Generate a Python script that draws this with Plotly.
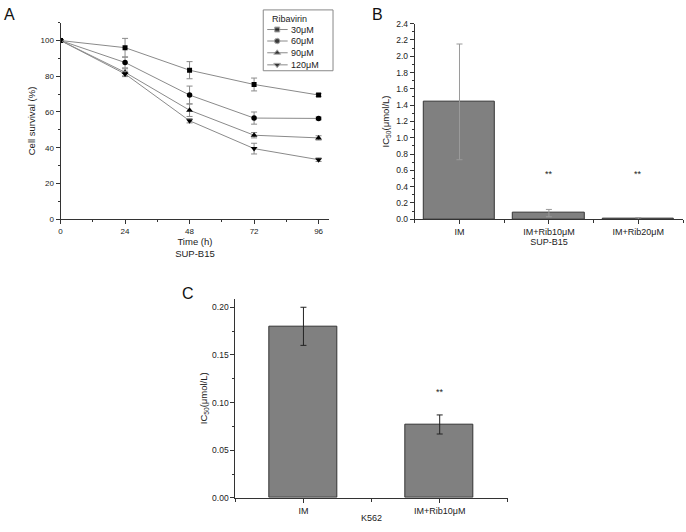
import plotly.graph_objects as go

# ---------------- data ----------------
times = [0, 24, 48, 72, 96]
s30 = [100, 96.0, 83.4, 75.4, 69.5]
e30 = [0, 5.2, 4.8, 3.6, 0.8]
s60 = [100, 87.7, 69.5, 56.6, 56.4]
e60 = [0, 3.0, 5.0, 3.4, 0.8]
s90 = [100, 82.2, 61.0, 47.0, 45.5]
e90 = [0, 2.0, 3.5, 1.5, 1.2]
s120 = [100, 81.3, 55.1, 39.5, 33.3]
e120 = [0, 1.5, 1.2, 3.0, 1.0]
series_names = ["30μM", "60μM", "90μM", "120μM"]

b_cats = ["IM", "IM+Rib10μM", "IM+Rib20μM"]
b_vals = [1.44, 0.075, 0.01]
b_errs = [0.71, 0.045, 0.01]
b_sig = ["", "**", "**"]
b_sig_y = [0, 0.56, 0.55]

c_cats = ["IM", "IM+Rib10μM"]
c_vals = [0.18, 0.077]
c_errs = [0.02, 0.010]
c_sig = ["", "**"]
c_sig_y = [0, 0.111]

W, H = 686, 532
FONT = "Liberation Sans, Arial, sans-serif"
AX = "#333333"
LINE_GRAY = "#8a8a8a"


def dom_x(a, b):
    return [a / W, b / W]


def dom_y(top, bottom):
    return [1 - bottom / H, 1 - top / H]


fig = go.Figure()

# ---------------- panel A ----------------
symbols = ["square", "circle", "triangle-up", "triangle-down"]
msizes = [5, 5.5, 6, 6]
for name, ys, es, sym, ms in zip(series_names, [s30, s60, s90, s120],
                                 [e30, e60, e90, e120], symbols, msizes):
    fig.add_trace(go.Scatter(
        x=times, y=ys, name=name, mode="lines+markers",
        line=dict(color=LINE_GRAY, width=1),
        marker=dict(symbol=sym, size=ms, color="black"),
        error_y=dict(type="data", array=es, visible=True,
                     color=LINE_GRAY, thickness=1, width=3),
        xaxis="x", yaxis="y", showlegend=False,
    ))

# ---------------- custom compact legend (panel A) ----------------
# helper axis spanning the whole page in pixel units
LEG_L, LEG_R, LEG_T, LEG_B = 262, 332, 5, 67
row_y = [25, 36.7, 48.7, 61.0]
for name, sym, ms, ry in zip(series_names, symbols, msizes, row_y):
    fig.add_trace(go.Scatter(
        x=[266, 276, 286.5], y=[ry, ry, ry], mode="lines+markers",
        line=dict(color=LINE_GRAY, width=1),
        marker=dict(symbol=sym, size=[0, ms, 0], color="black"),
        xaxis="x4", yaxis="y4", showlegend=False, hoverinfo="skip",
    ))

# ---------------- panel B ----------------
fig.add_trace(go.Bar(
    x=list(range(len(b_cats))), y=b_vals, width=0.8,
    marker=dict(color="#808080", line=dict(color="#333333", width=1)),
    error_y=dict(type="data", array=b_errs, visible=True,
                 color="#9a9a9a", thickness=1, width=3),
    xaxis="x2", yaxis="y2", showlegend=False,
))

# ---------------- panel C ----------------
fig.add_trace(go.Bar(
    x=list(range(len(c_cats))), y=c_vals, width=0.5,
    marker=dict(color="#808080", line=dict(color="#333333", width=1)),
    error_y=dict(type="data", array=c_errs, visible=True,
                 color="#222222", thickness=1, width=3),
    xaxis="x3", yaxis="y3", showlegend=False,
))

annotations = []
for i, s in enumerate(b_sig):
    if s:
        annotations.append(dict(x=i, y=b_sig_y[i], xref="x2", yref="y2", text=s,
                                showarrow=False, font=dict(size=9, color="#222")))
for i, s in enumerate(c_sig):
    if s:
        annotations.append(dict(x=i, y=c_sig_y[i], xref="x3", yref="y3", text=s,
                                showarrow=False, font=dict(size=9, color="#222")))
for letter, px, py in [("A", 8, 10), ("B", 377, 10), ("C", 187, 294)]:
    annotations.append(dict(x=px / W, y=1 - py / H, xref="paper", yref="paper",
                            text=letter, showarrow=False, xanchor="center",
                            yanchor="middle",
                            font=dict(size=16, color="#111")))
# legend texts
annotations.append(dict(x=269, y=14, xref="x4", yref="y4", text="Ribavirin",
                        xanchor="left", showarrow=False,
                        font=dict(size=9, color="#222")))
for name, ry in zip(series_names, row_y):
    annotations.append(dict(x=287.5, y=ry, xref="x4", yref="y4", text=name,
                            xanchor="left", showarrow=False,
                            font=dict(size=9, color="#222")))

shapes = [dict(type="rect", xref="x4", yref="y4", x0=LEG_L, x1=LEG_R,
               y0=LEG_T, y1=LEG_B, line=dict(color="#888", width=1),
               fillcolor="rgba(0,0,0,0)", layer="below")]

common_axis = dict(showline=True, linecolor=AX, linewidth=1, ticks="outside",
                   tickcolor=AX, ticklen=4, tickfont=dict(size=8, color="#222"),
                   showgrid=False, zeroline=False, mirror=False)

fig.update_layout(
    width=W, height=H, margin=dict(l=0, r=0, t=0, b=0),
    paper_bgcolor="white", plot_bgcolor="rgba(0,0,0,0)",
    font=dict(family=FONT, color="#222"),
    xaxis=dict(domain=dom_x(58.7, 328.3), anchor="y", range=[0, 100],
               tickvals=times, minor=dict(ticks="outside", ticklen=2, dtick=12,
                                          tick0=0, tickcolor=AX),
               title=dict(text="Time (h)<br>SUP-B15", font=dict(size=9.5),
                          standoff=3),
               **common_axis),
    yaxis=dict(domain=dom_y(18, 218.3), anchor="x", range=[0, 110],
               tickvals=[0, 20, 40, 60, 80, 100],
               minor=dict(ticks="outside", ticklen=2, dtick=10, tickcolor=AX),
               title=dict(text="Cell survival (%)", font=dict(size=9.5), standoff=3),
               **common_axis),
    xaxis2=dict(domain=dom_x(414, 683), anchor="y2", range=[-0.5, 2.5],
                tickvals=[0, 1, 2], ticktext=b_cats,
                minor=dict(ticks="outside", ticklen=3, tick0=0.5, dtick=1,
                           tickcolor=AX),
                title=dict(text="SUP-B15", font=dict(size=9), standoff=1),
                **{**common_axis, "tickfont": dict(size=9, color="#222")}),
    yaxis2=dict(domain=dom_y(19, 218.3), anchor="x2", range=[0, 2.4],
                dtick=0.2, tickformat=".1f",
                minor=dict(ticks="outside", ticklen=2, dtick=0.1, tickcolor=AX),
                title=dict(text="IC<sub>50</sub>(μmol/L)", font=dict(size=9.5),
                           standoff=4),
                **{**common_axis, "tickfont": dict(size=8.5, color="#222")}),
    xaxis3=dict(domain=dom_x(234, 507.3), anchor="y3", range=[-0.5, 1.5],
                tickvals=[0, 1], ticktext=c_cats,
                minor=dict(ticks="outside", ticklen=3, tick0=0.5, dtick=1,
                           tickcolor=AX),
                title=dict(text="K562", font=dict(size=9), standoff=0),
                **{**common_axis, "tickfont": dict(size=9, color="#222")}),
    yaxis3=dict(domain=dom_y(299.3, 502.3), anchor="x3", range=[0, 0.209],
                tickvals=[0, 0.05, 0.10, 0.15, 0.20], tickformat=".2f",
                minor=dict(ticks="outside", ticklen=2, dtick=0.025, tickcolor=AX),
                title=dict(text="IC<sub>50</sub>(μmol/L)", font=dict(size=9.5),
                           standoff=2),
                **{**common_axis, "tickfont": dict(size=8.5, color="#222")}),
    xaxis4=dict(domain=[0, 1], range=[0, W], visible=False, fixedrange=True,
                anchor="y4"),
    yaxis4=dict(domain=[0, 1], range=[H, 0], visible=False, fixedrange=True,
                anchor="x4"),
    annotations=annotations,
    shapes=shapes,
    showlegend=False,
    bargap=0,
)

fig.write_html("out.html", config={"displayModeBar": False},
               post_script="document.body.style.margin='0';")
